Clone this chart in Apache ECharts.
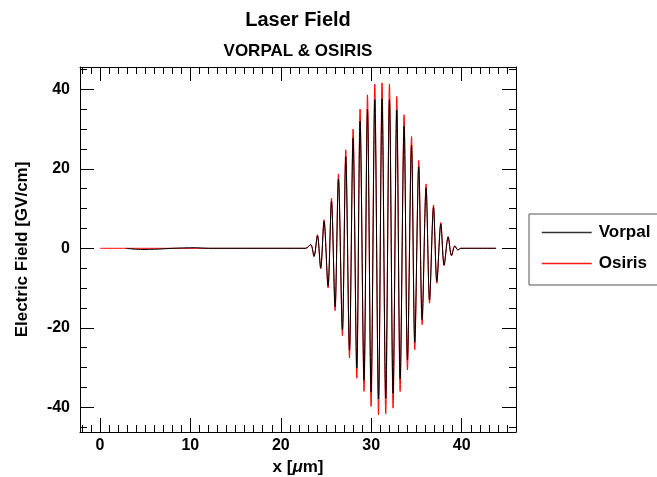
<!DOCTYPE html>
<html>
<head>
<meta charset="utf-8">
<title>Laser Field</title>
<script src="https://cdn.jsdelivr.net/npm/echarts@6/dist/echarts.min.js"></script>
<style>
    html, body { margin: 0; padding: 0; background: #fff; }
    #laser-chart { width: 657px; height: 477px; }
</style>
</head>
<body>
<div id="laser-chart"></div>
<script>
// --- values (x in um, field in GV/cm) ---
// extrema of the pulse, peak / trough alternating
const pulseX = [22.75, 23.31, 23.67, 24.05, 24.41, 24.78, 25.22, 25.60, 26.00, 26.37,
                26.81, 27.18, 27.59, 27.99, 28.40, 28.76, 29.20, 29.58, 29.98, 30.39,
                30.80, 31.19, 31.60, 32.01, 32.41, 32.82, 33.19, 33.63, 34.00, 34.45,
                34.81, 35.25, 35.62, 36.06, 36.44, 36.88, 37.25, 37.69, 38.05, 38.50,
                38.87, 39.24, 39.57, 39.90];
const osirisY = [0, 1.0, -2.1, 3.4, -5.2, 7.2, -10.0, 12.6, -15.7, 18.7,
                 -22.0, 24.8, -27.6, 30.0, -32.7, 35.0, -36.0, 38.6, -39.8, 41.3,
                 -41.9, 41.6, -41.6, 41.3, -40.2, 38.2, -36.0, 33.6, -30.6, 28.1,
                 -25.5, 22.1, -19.2, 16.2, -13.8, 10.9, -8.8, 6.5, -4.4, 3.0,
                 -1.9, 0.6, -0.4, 0];
const vorpalY = [0, 0.9, -2.0, 3.2, -4.9, 6.8, -9.4, 11.8, -14.7, 17.4,
                 -20.5, 23.0, -25.6, 27.7, -30.1, 32.0, -33.2, 35.0, -36.2, 37.4,
                 -37.9, 37.6, -37.7, 37.4, -36.5, 34.8, -32.9, 30.8, -28.1, 25.9,
                 -23.6, 20.5, -17.9, 15.2, -13.0, 10.3, -8.3, 6.1, -4.2, 2.8,
                 -1.8, 0.6, -0.4, 0];
// flat parts before / after the pulse
const osirisFlatX = [0, 43.8];
const vorpalFlatX = [2.9, 4.5, 6.5, 8.0, 10.5, 12.0, 43.8];
const vorpalFlatY = [0, -0.3, -0.2, 0, 0.15, 0, 0];

// tick positions
const xMajorTicks = [0, 10, 20, 30, 40];
const xMinorTicks = [-2, -1, 1, 2, 3, 4, 5, 6, 7, 8, 9, 11, 12, 13, 14, 15, 16, 17, 18, 19,
                     21, 22, 23, 24, 25, 26, 27, 28, 29, 31, 32, 33, 34, 35, 36, 37, 38, 39,
                     41, 42, 43, 44, 45];
const yMajorTicks = [-40, -20, 0, 20, 40];
const yMinorTicks = [-45, -35, -30, -25, -15, -10, -5, 5, 10, 15, 25, 30, 35, 45];
const xRange = [-2.2, 46];
const yRange = [-46.2, 45.6];

(function () {
    const chart = echarts.init(document.getElementById('laser-chart'));
    const FONT = '"Liberation Sans", Arial, sans-serif';
    const VORPAL_COLOR = '#000', OSIRIS_COLOR = '#ff0000';

    const osirisData = [[osirisFlatX[0], 0]]
        .concat(pulseX.map((x, i) => [x, osirisY[i]]))
        .concat([[osirisFlatX[1], 0]]);
    const vorpalData = vorpalFlatX.slice(0, -1).map((x, i) => [x, vorpalFlatY[i]])
        .concat(pulseX.map((x, i) => [x, vorpalY[i]]))
        .concat([[vorpalFlatX[vorpalFlatX.length - 1], 0]]);

    // one axis per tick family: major (long) and minor (short), mirrored on both sides
    function xAxisOf(position, ticks, len, isMain) {
        return {
            type: 'value', position: position, min: xRange[0], max: xRange[1],
            axisLine: { show: isMain, onZero: false, lineStyle: { color: '#000', width: 1 } },
            axisTick: { show: true, inside: true, length: len, customValues: ticks,
                        lineStyle: { color: '#000', width: 1 } },
            axisLabel: isMain && position === 'bottom'
                ? { show: true, customValues: xMajorTicks, margin: 6, color: '#000',
                    fontSize: 16, fontWeight: 'bold', fontFamily: FONT }
                : { show: false },
            splitLine: { show: false }
        };
    }
    function yAxisOf(position, ticks, len, isMain) {
        return {
            type: 'value', position: position, min: yRange[0], max: yRange[1],
            axisLine: { show: isMain, onZero: false, lineStyle: { color: '#000', width: 1 } },
            axisTick: { show: true, inside: true, length: len, customValues: ticks,
                        lineStyle: { color: '#000', width: 1 } },
            axisLabel: isMain && position === 'left'
                ? { show: true, customValues: yMajorTicks, margin: 10, color: '#000',
                    fontSize: 16, fontWeight: 'bold', fontFamily: FONT }
                : { show: false },
            splitLine: { show: false }
        };
    }

    const xAxes = [
        xAxisOf('bottom', xMajorTicks, 14, true),
        xAxisOf('bottom', xMinorTicks, 7, false),
        xAxisOf('top', xMajorTicks, 14, true),
        xAxisOf('top', xMinorTicks, 7, false)
    ];
    xAxes[0].name = 'x [{mu|μ}m]';
    xAxes[0].nameLocation = 'middle';
    xAxes[0].nameGap = 27;
    xAxes[0].nameTextStyle = {
        color: '#000', fontSize: 17, fontWeight: 'bold', fontFamily: FONT,
        rich: { mu: { fontSize: 17, fontStyle: 'italic', fontWeight: 'bold', fontFamily: FONT, color: '#000' } }
    };

    const yAxes = [
        yAxisOf('left', yMajorTicks, 14, true),
        yAxisOf('left', yMinorTicks, 7, false),
        yAxisOf('right', yMajorTicks, 14, true),
        yAxisOf('right', yMinorTicks, 7, false)
    ];
    yAxes[0].name = 'Electric Field [GV/cm]';
    yAxes[0].nameLocation = 'middle';
    yAxes[0].nameGap = 49;
    yAxes[0].nameTextStyle = { color: '#000', fontSize: 17, fontWeight: 'bold', fontFamily: FONT };

    const option = {
        backgroundColor: '#fff',
        animation: false,
        title: [
            { text: 'Laser Field', left: 298, top: 10, textAlign: 'center', padding: 0,
              textStyle: { fontSize: 20, fontWeight: 'bold', color: '#000', fontFamily: FONT } },
            { text: 'VORPAL & OSIRIS', left: 298, top: 43, textAlign: 'center', padding: 0,
              textStyle: { fontSize: 17, fontWeight: 'bold', color: '#000', fontFamily: FONT } }
        ],
        legend: {
            data: [
                { name: 'Vorpal', lineStyle: { color: VORPAL_COLOR, width: 1.5, opacity: 0.8 } },
                { name: 'Osiris', lineStyle: { color: OSIRIS_COLOR, width: 1.5, opacity: 0.9 } }
            ],
            orient: 'vertical',
            left: 529, top: 214,
            padding: [10, 40, 13, 12],
            itemWidth: 50, itemHeight: 14, itemGap: 14,
            itemStyle: { opacity: 0, borderWidth: 0 },
            borderColor: '#555', borderWidth: 1,
            textStyle: { fontSize: 17, fontWeight: 'bold', color: '#000', fontFamily: FONT, padding: [0, 0, 0, 2] }
        },
        grid: { left: 80, top: 67, width: 436, height: 365, containLabel: false, outerBoundsMode: 'none' },
        xAxis: xAxes,
        yAxis: yAxes,
        series: [
            {
                name: 'Vorpal', type: 'line', data: vorpalData, z: 3,
                symbol: 'none', smooth: 0.3,
                lineStyle: { color: VORPAL_COLOR, width: 1 }, itemStyle: { color: VORPAL_COLOR }
            },
            {
                name: 'Osiris', type: 'line', data: osirisData, z: 2,
                symbol: 'none', smooth: 0.3,
                lineStyle: { color: OSIRIS_COLOR, width: 1 }, itemStyle: { color: OSIRIS_COLOR }
            }
        ]
    };
    chart.setOption(option);
})();
</script>
</body>
</html>
